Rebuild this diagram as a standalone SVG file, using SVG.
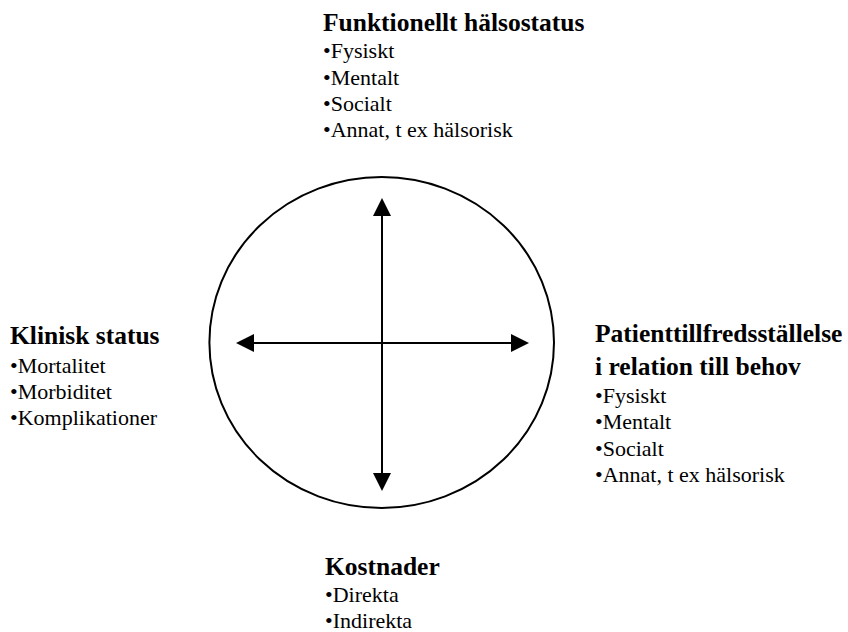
<svg xmlns="http://www.w3.org/2000/svg" width="848" height="632" viewBox="0 0 848 632">
<style>
.t{font-family:"Liberation Serif","Times New Roman",serif;font-size:25.5px;font-weight:bold;fill:#000}
.b{font-family:"Liberation Serif","Times New Roman",serif;font-size:22px;fill:#000}
.ln{stroke:#000;stroke-width:2;fill:none}
</style>
<defs>
<marker id="ah" markerUnits="userSpaceOnUse" markerWidth="18" markerHeight="18" viewBox="0 0 18 18" refX="0" refY="9" orient="auto-start-reverse">
<path d="M0,0 L18,9 L0,18 z" fill="#000"/>
</marker>
</defs>
<rect width="848" height="632" fill="#fff"/>
<g id="circle">
<ellipse class="ln" cx="381.7" cy="342.5" rx="172.3" ry="165.5"/>
</g>
<g id="connectors">
<line class="ln" x1="382" y1="216" x2="382" y2="473" marker-start="url(#ah)" marker-end="url(#ah)"/>
<line class="ln" x1="254" y1="343" x2="511" y2="343" marker-start="url(#ah)" marker-end="url(#ah)"/>
</g>
<g id="top">
<text class="t" x="323" y="31">Funktionellt hälsostatus</text>
<text class="b" x="323" y="58">•Fysiskt</text>
<text class="b" x="323" y="85">•Mentalt</text>
<text class="b" x="323" y="111">•Socialt</text>
<text class="b" x="323" y="137">•Annat, t ex hälsorisk</text>
</g>
<g id="left">
<text class="t" x="10" y="344">Klinisk status</text>
<text class="b" x="10" y="373">•Mortalitet</text>
<text class="b" x="10" y="399">•Morbiditet</text>
<text class="b" x="10" y="425">•Komplikationer</text>
</g>
<g id="right">
<text class="t" x="595" y="342">Patienttillfredsställelse</text>
<text class="t" x="595" y="375">i relation till behov</text>
<text class="b" x="595" y="403">•Fysiskt</text>
<text class="b" x="595" y="429">•Mentalt</text>
<text class="b" x="595" y="456">•Socialt</text>
<text class="b" x="595" y="482">•Annat, t ex hälsorisk</text>
</g>
<g id="bottom">
<text class="t" x="325" y="575">Kostnader</text>
<text class="b" x="325" y="602">•Direkta</text>
<text class="b" x="325" y="628">•Indirekta</text>
</g>
</svg>
